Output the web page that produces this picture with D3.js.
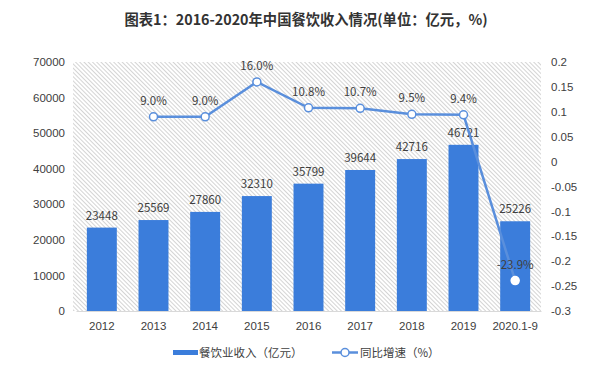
<!DOCTYPE html>
<html><head><meta charset="utf-8">
<script src="https://cdn.jsdelivr.net/npm/d3@7"></script>
<style>
html,body{margin:0;padding:0;background:#fff;}
svg{display:block;font-family:"Noto Sans CJK SC","Noto Sans",sans-serif;}
</style></head>
<body><svg id="c" width="600" height="373"></svg>
<script>
const categories = ["2012","2013","2014","2015","2016","2017","2018","2019","2020.1-9"];
const revenue = [23448,25569,27860,32310,35799,39644,42716,46721,25226];
const growth = [null,0.09,0.09,0.16,0.108,0.107,0.095,0.094,-0.239];
const growthLabels = ["","9.0%","9.0%","16.0%","10.8%","10.7%","9.5%","9.4%","-23.9%"];
const leftTicks = [0,10000,20000,30000,40000,50000,60000,70000];
const rightTicks = [-0.3,-0.25,-0.2,-0.15,-0.1,-0.05,0,0.05,0.1,0.15,0.2];
const title = "图表1：2016-2020年中国餐饮收入情况(单位：亿元，%)";
const legendBar = "餐饮业收入（亿元）";
const legendLine = "同比增速（%）";

const svg = d3.select("#c");
const m = {l:76, r:541, t:62, b:311};
const barColor = "#3b7ddb", lineColor = "#5a8fdc", textColor = "#404040";

const x = d3.scaleBand().domain(categories).range([m.l, m.r]).paddingInner(0.42).paddingOuter(0.21);
const yL = d3.scaleLinear().domain([0,70000]).range([m.b, m.t]);
const yR = d3.scaleLinear().domain([-0.3,0.2]).range([m.b, m.t]);

// hatch pattern
const defs = svg.append("defs");
const pat = defs.append("pattern").attr("id","hatch").attr("patternUnits","userSpaceOnUse")
  .attr("width",3).attr("height",3).attr("patternTransform","rotate(-45)");
pat.append("line").attr("x1",0.5).attr("y1",0).attr("x2",0.5).attr("y2",3)
  .attr("stroke","#d4d4d4").attr("stroke-width",1);
svg.append("rect").attr("x",m.l-3).attr("y",m.t).attr("width",m.r-m.l+3).attr("height",m.b-m.t)
  .attr("fill","url(#hatch)");

// title
svg.append("text").attr("x",306).attr("y",25).attr("text-anchor","middle")
  .attr("font-size",14.3).attr("font-weight","bold").attr("fill","#333").text(title);

// left axis
const la = svg.append("g").attr("transform",`translate(${m.l},0)`)
  .call(d3.axisLeft(yL).tickValues(leftTicks).tickSize(0).tickPadding(11).tickFormat(d3.format("d")));
la.select(".domain").remove();
la.selectAll("text").attr("font-size",11.5).attr("fill",textColor).style("font-family","inherit");

// right axis
const ra = svg.append("g").attr("transform",`translate(${m.r},0)`)
  .call(d3.axisRight(yR).tickValues(rightTicks).tickSize(0).tickPadding(10).tickFormat(d=>String(+d.toFixed(2))));
ra.select(".domain").remove();
ra.selectAll("text").attr("font-size",11.5).attr("fill",textColor).style("font-family","inherit");

// x axis
const xa = svg.append("g").attr("transform",`translate(0,${m.b})`)
  .call(d3.axisBottom(x).tickSize(0).tickPadding(11));
xa.select(".domain").attr("stroke","#d9d9d9");
xa.selectAll("text").attr("font-size",11.5).attr("fill",textColor).style("font-family","inherit");

// bars
svg.selectAll(".bar").data(categories).enter().append("rect")
  .attr("x",d=>x(d)).attr("width",x.bandwidth())
  .attr("y",(d,i)=>yL(revenue[i])).attr("height",(d,i)=>yL(0)-yL(revenue[i]))
  .attr("fill",barColor);
svg.selectAll(".bl").data(categories).enter().append("text")
  .attr("x",d=>x(d)+x.bandwidth()/2).attr("y",(d,i)=>yL(revenue[i])-8)
  .attr("text-anchor","middle").attr("font-size",11.5).attr("fill",textColor)
  .text((d,i)=>revenue[i]);

// line
const pts = categories.map((c,i)=>({c,v:growth[i],lab:growthLabels[i]})).filter(p=>p.v!==null);
const line = d3.line().x(p=>x(p.c)+x.bandwidth()/2).y(p=>yR(p.v));
svg.append("path").datum(pts).attr("d",line).attr("fill","none")
  .attr("stroke",lineColor).attr("stroke-width",2.5);
svg.selectAll(".pt").data(pts).enter().append("circle")
  .attr("cx",p=>x(p.c)+x.bandwidth()/2).attr("cy",p=>yR(p.v)).attr("r",4)
  .attr("fill","#fff").attr("stroke",(p,i)=>i===pts.length-1?"#fff":lineColor).attr("stroke-width",1.5);
svg.selectAll(".pl").data(pts).enter().append("text")
  .attr("x",p=>x(p.c)+x.bandwidth()/2).attr("y",p=>yR(p.v)-12)
  .attr("text-anchor","middle").attr("font-size",11.5).attr("fill",textColor)
  .text(p=>p.lab);

// legend
const lg = svg.append("g");
lg.append("rect").attr("x",173).attr("y",350).attr("width",25).attr("height",5).attr("fill",barColor);
lg.append("text").attr("x",199).attr("y",357).attr("font-size",11.5).attr("fill",textColor).text(legendBar);
lg.append("line").attr("x1",332).attr("x2",358).attr("y1",352.5).attr("y2",352.5).attr("stroke",lineColor).attr("stroke-width",2.5);
lg.append("circle").attr("cx",345).attr("cy",352.5).attr("r",4).attr("fill","#fff").attr("stroke",lineColor).attr("stroke-width",1.5);
lg.append("text").attr("x",360).attr("y",357).attr("font-size",11.5).attr("fill",textColor).text(legendLine);
</script></body></html>
